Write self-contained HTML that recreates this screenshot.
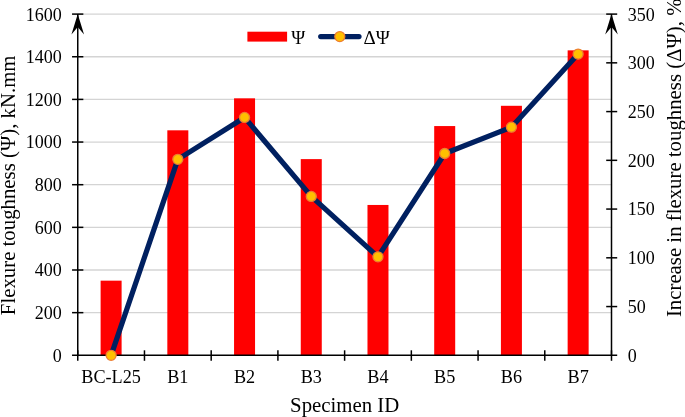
<!DOCTYPE html><html><head><meta charset="utf-8"><title>Flexure toughness chart</title><style>html,body{margin:0;padding:0;background:#fff}body{width:685px;height:417px;overflow:hidden}</style></head><body>
<svg width="685" height="417" viewBox="0 0 685 417" style="display:block">
<rect width="685" height="417" fill="#fff"/>
<line x1="77.75" x2="611.5" y1="312.65" y2="312.65" stroke="#d4d4d4" stroke-width="1.3"/>
<line x1="77.75" x2="611.5" y1="270.00" y2="270.00" stroke="#d4d4d4" stroke-width="1.3"/>
<line x1="77.75" x2="611.5" y1="227.35" y2="227.35" stroke="#d4d4d4" stroke-width="1.3"/>
<line x1="77.75" x2="611.5" y1="184.70" y2="184.70" stroke="#d4d4d4" stroke-width="1.3"/>
<line x1="77.75" x2="611.5" y1="142.05" y2="142.05" stroke="#d4d4d4" stroke-width="1.3"/>
<line x1="77.75" x2="611.5" y1="99.40" y2="99.40" stroke="#d4d4d4" stroke-width="1.3"/>
<line x1="77.75" x2="611.5" y1="56.75" y2="56.75" stroke="#d4d4d4" stroke-width="1.3"/>
<line x1="77.75" x2="611.5" y1="14.10" y2="14.10" stroke="#d4d4d4" stroke-width="1.3"/>
<rect x="100.61" y="280.66" width="21.0" height="74.64" fill="#ff0000"/>
<rect x="167.33" y="130.32" width="21.0" height="224.98" fill="#ff0000"/>
<rect x="234.05" y="98.33" width="21.0" height="256.97" fill="#ff0000"/>
<rect x="300.77" y="159.11" width="21.0" height="196.19" fill="#ff0000"/>
<rect x="367.48" y="204.96" width="21.0" height="150.34" fill="#ff0000"/>
<rect x="434.20" y="126.06" width="21.0" height="229.24" fill="#ff0000"/>
<rect x="500.92" y="105.80" width="21.0" height="249.50" fill="#ff0000"/>
<rect x="567.64" y="50.35" width="21.0" height="304.95" fill="#ff0000"/>
<line x1="72.05" x2="617.2" y1="355.3" y2="355.3" stroke="#000" stroke-width="1.5"/>
<line x1="77.75" x2="77.75" y1="14.1" y2="355.3" stroke="#000" stroke-width="1.5"/>
<line x1="611.5" x2="611.5" y1="14.1" y2="355.3" stroke="#000" stroke-width="1.5"/>
<line x1="72.05" x2="83.35" y1="312.65" y2="312.65" stroke="#000" stroke-width="1.5"/>
<line x1="72.05" x2="83.35" y1="270.00" y2="270.00" stroke="#000" stroke-width="1.5"/>
<line x1="72.05" x2="83.35" y1="227.35" y2="227.35" stroke="#000" stroke-width="1.5"/>
<line x1="72.05" x2="83.35" y1="184.70" y2="184.70" stroke="#000" stroke-width="1.5"/>
<line x1="72.05" x2="83.35" y1="142.05" y2="142.05" stroke="#000" stroke-width="1.5"/>
<line x1="72.05" x2="83.35" y1="99.40" y2="99.40" stroke="#000" stroke-width="1.5"/>
<line x1="72.05" x2="83.35" y1="56.75" y2="56.75" stroke="#000" stroke-width="1.5"/>
<line x1="72.05" x2="83.35" y1="14.10" y2="14.10" stroke="#000" stroke-width="1.5"/>
<line x1="606.2" x2="617.2" y1="306.56" y2="306.56" stroke="#000" stroke-width="1.5"/>
<line x1="606.2" x2="617.2" y1="257.81" y2="257.81" stroke="#000" stroke-width="1.5"/>
<line x1="606.2" x2="617.2" y1="209.07" y2="209.07" stroke="#000" stroke-width="1.5"/>
<line x1="606.2" x2="617.2" y1="160.33" y2="160.33" stroke="#000" stroke-width="1.5"/>
<line x1="606.2" x2="617.2" y1="111.59" y2="111.59" stroke="#000" stroke-width="1.5"/>
<line x1="606.2" x2="617.2" y1="62.84" y2="62.84" stroke="#000" stroke-width="1.5"/>
<line x1="606.2" x2="617.2" y1="14.10" y2="14.10" stroke="#000" stroke-width="1.5"/>
<line x1="77.75" x2="77.75" y1="350.3" y2="360.8" stroke="#000" stroke-width="1.5"/>
<line x1="144.47" x2="144.47" y1="350.3" y2="360.8" stroke="#000" stroke-width="1.5"/>
<line x1="211.19" x2="211.19" y1="350.3" y2="360.8" stroke="#000" stroke-width="1.5"/>
<line x1="277.91" x2="277.91" y1="350.3" y2="360.8" stroke="#000" stroke-width="1.5"/>
<line x1="344.62" x2="344.62" y1="350.3" y2="360.8" stroke="#000" stroke-width="1.5"/>
<line x1="411.34" x2="411.34" y1="350.3" y2="360.8" stroke="#000" stroke-width="1.5"/>
<line x1="478.06" x2="478.06" y1="350.3" y2="360.8" stroke="#000" stroke-width="1.5"/>
<line x1="544.78" x2="544.78" y1="350.3" y2="360.8" stroke="#000" stroke-width="1.5"/>
<line x1="611.50" x2="611.50" y1="350.3" y2="360.8" stroke="#000" stroke-width="1.5"/>
<path d="M77.75 14.1 L71.45 34.4 L77.75 27.1 L84.05 34.4 Z" fill="#000"/>
<path d="M611.5 14.1 L605.2 34.4 L611.5 27.1 L617.8 34.4 Z" fill="#000"/>
<polyline fill="none" stroke="#002060" stroke-width="5.2" stroke-linejoin="round" stroke-linecap="round" points="111.11,355.30 177.83,159.35 244.55,117.43 311.27,196.40 377.98,256.84 444.70,153.50 511.42,127.18 578.14,54.07"/>
<circle cx="111.11" cy="355.30" r="5" fill="#ffc000" stroke="#ed7d31" stroke-width="1.3"/>
<circle cx="177.83" cy="159.35" r="5" fill="#ffc000" stroke="#ed7d31" stroke-width="1.3"/>
<circle cx="244.55" cy="117.43" r="5" fill="#ffc000" stroke="#ed7d31" stroke-width="1.3"/>
<circle cx="311.27" cy="196.40" r="5" fill="#ffc000" stroke="#ed7d31" stroke-width="1.3"/>
<circle cx="377.98" cy="256.84" r="5" fill="#ffc000" stroke="#ed7d31" stroke-width="1.3"/>
<circle cx="444.70" cy="153.50" r="5" fill="#ffc000" stroke="#ed7d31" stroke-width="1.3"/>
<circle cx="511.42" cy="127.18" r="5" fill="#ffc000" stroke="#ed7d31" stroke-width="1.3"/>
<circle cx="578.14" cy="54.07" r="5" fill="#ffc000" stroke="#ed7d31" stroke-width="1.3"/>
<text x="61.75" y="361.70" font-family="Liberation Serif, serif" fill="#000" font-size="18" text-anchor="end">0</text>
<text x="61.75" y="319.05" font-family="Liberation Serif, serif" fill="#000" font-size="18" text-anchor="end">200</text>
<text x="61.75" y="276.40" font-family="Liberation Serif, serif" fill="#000" font-size="18" text-anchor="end">400</text>
<text x="61.75" y="233.75" font-family="Liberation Serif, serif" fill="#000" font-size="18" text-anchor="end">600</text>
<text x="61.75" y="191.10" font-family="Liberation Serif, serif" fill="#000" font-size="18" text-anchor="end">800</text>
<text x="61.75" y="148.45" font-family="Liberation Serif, serif" fill="#000" font-size="18" text-anchor="end">1000</text>
<text x="61.75" y="105.80" font-family="Liberation Serif, serif" fill="#000" font-size="18" text-anchor="end">1200</text>
<text x="61.75" y="63.15" font-family="Liberation Serif, serif" fill="#000" font-size="18" text-anchor="end">1400</text>
<text x="61.75" y="20.50" font-family="Liberation Serif, serif" fill="#000" font-size="18" text-anchor="end">1600</text>
<text x="627.7" y="361.70" font-family="Liberation Serif, serif" fill="#000" font-size="18">0</text>
<text x="627.7" y="312.96" font-family="Liberation Serif, serif" fill="#000" font-size="18">50</text>
<text x="627.7" y="264.21" font-family="Liberation Serif, serif" fill="#000" font-size="18">100</text>
<text x="627.7" y="215.47" font-family="Liberation Serif, serif" fill="#000" font-size="18">150</text>
<text x="627.7" y="166.73" font-family="Liberation Serif, serif" fill="#000" font-size="18">200</text>
<text x="627.7" y="117.99" font-family="Liberation Serif, serif" fill="#000" font-size="18">250</text>
<text x="627.7" y="69.24" font-family="Liberation Serif, serif" fill="#000" font-size="18">300</text>
<text x="627.7" y="20.50" font-family="Liberation Serif, serif" fill="#000" font-size="18">350</text>
<text x="111.11" y="383.2" font-family="Liberation Serif, serif" fill="#000" font-size="18.2" text-anchor="middle">BC-L25</text>
<text x="177.83" y="383.2" font-family="Liberation Serif, serif" fill="#000" font-size="18.2" text-anchor="middle">B1</text>
<text x="244.55" y="383.2" font-family="Liberation Serif, serif" fill="#000" font-size="18.2" text-anchor="middle">B2</text>
<text x="311.27" y="383.2" font-family="Liberation Serif, serif" fill="#000" font-size="18.2" text-anchor="middle">B3</text>
<text x="377.98" y="383.2" font-family="Liberation Serif, serif" fill="#000" font-size="18.2" text-anchor="middle">B4</text>
<text x="444.70" y="383.2" font-family="Liberation Serif, serif" fill="#000" font-size="18.2" text-anchor="middle">B5</text>
<text x="511.42" y="383.2" font-family="Liberation Serif, serif" fill="#000" font-size="18.2" text-anchor="middle">B6</text>
<text x="578.14" y="383.2" font-family="Liberation Serif, serif" fill="#000" font-size="18.2" text-anchor="middle">B7</text>
<text x="344.7" y="412" font-family="Liberation Serif, serif" fill="#000" font-size="20.8" text-anchor="middle">Specimen ID</text>
<text transform="translate(15.3,185.3) rotate(-90)" font-family="Liberation Serif, serif" fill="#000" font-size="20.8" text-anchor="middle">Flexure toughness (Ψ), kN.mm</text>
<text transform="translate(680.8,157.8) rotate(-90)" font-family="Liberation Serif, serif" fill="#000" font-size="20.8" text-anchor="middle">Increase in flexure toughness (ΔΨ), %</text>
<rect x="247.4" y="31.7" width="39.7" height="9.9" fill="#ff0000"/>
<text x="291.3" y="43.5" font-family="Liberation Serif, serif" fill="#000" font-size="19">Ψ</text>
<line x1="320.7" x2="359" y1="36.6" y2="36.6" stroke="#002060" stroke-width="5.2" stroke-linecap="round"/>
<circle cx="339.8" cy="36.6" r="5" fill="#ffc000" stroke="#ed7d31" stroke-width="1.3"/>
<text x="363.5" y="43.5" font-family="Liberation Serif, serif" fill="#000" font-size="19">ΔΨ</text>
</svg>
</body></html>
